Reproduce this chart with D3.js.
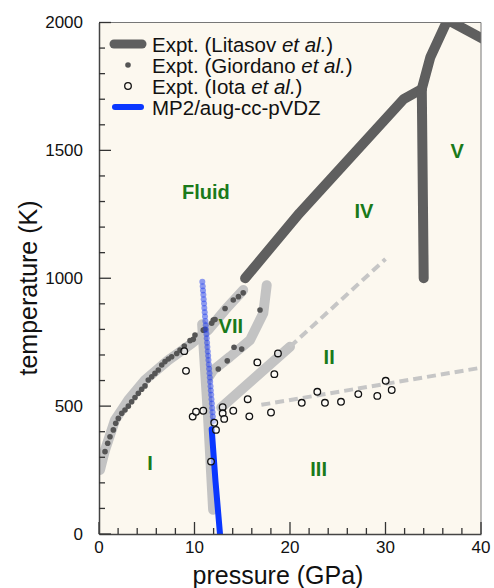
<!DOCTYPE html>
<html>
<head>
<meta charset="utf-8">
<script src="https://cdn.jsdelivr.net/npm/d3@7"></script>
<style>
  html, body { margin: 0; padding: 0; background: #ffffff; }
  svg { display: block; font-family: "Liberation Sans", Arial, Helvetica, sans-serif; }
</style>
</head>
<body>
<svg id="chart" width="494" height="588"></svg>
<script>
// ---- data: pressure (GPa), temperature (K) ----

// Litasov et al. phase boundaries (thick dark lines)
const litasovMelt = [[15.3, 1000], [21.0, 1255], [31.9, 1700], [33.8, 1740]];
const litasovIVV = [[33.8, 1740], [34.0, 1000]];
const litasovUpper = [[33.8, 1740], [34.7, 1865], [36.5, 2010], [40.5, 1930]];

// light grey guide boundaries
const bandMeltI = [[0.1, 250], [0.63, 328], [1.68, 446], [3.07, 524], [4.82, 602], [7.26, 680], [9.71, 745], [11.45, 798], [13.2, 876], [15.1, 954]];
const bandVIIupper = [[17.56, 973], [17.2, 863], [15.81, 758], [13.72, 693], [11.97, 641], [11.28, 602]];
const bandVIIVIII = [[10.8, 820], [11.4, 470], [11.95, 95]];
const bandVIIvsII = [[12.8, 495], [20.0, 732]];

// dashed grey boundaries
const dashIIvsIV = [[20.0, 732], [30.0, 1075]];
const dashIIvsIII = [[17.0, 505], [40.0, 650]];

// Giordano et al. points
const giordanoP = [0.63, 0.91, 1.15, 1.5, 1.75, 2.02, 2.38, 2.72, 3.07, 3.42, 3.77, 4.12, 4.47, 4.82, 5.16, 5.52, 5.86, 6.21, 6.57, 6.91, 7.26, 7.61, 8.14, 8.48, 8.93, 9.53, 9.87, 10.05, 10.92, 11.1, 11.8, 11.97, 12.15, 13.2, 14.06, 14.6, 15.1, 16.86, 14.94, 14.14, 13.43, 12.49];
const giordanoT = [322, 355, 380, 407, 433, 452, 472, 485, 500, 517, 534, 550, 566, 579, 602, 615, 628, 641, 661, 674, 684, 693, 706, 719, 735, 756, 761, 778, 797, 800, 824, 837, 839, 882, 915, 928, 943, 876, 723, 730, 677, 645];

// Iota et al. points
const iotaP = [8.93, 9.11, 9.81, 10.16, 10.92, 12.07, 12.25, 11.73, 12.95, 12.95, 13.11, 14.06, 15.57, 15.74, 16.58, 18.36, 18.74, 18.01, 21.23, 22.86, 23.66, 25.34, 27.15, 29.14, 30.02, 30.65];
const iotaT = [715, 638, 459, 478, 482, 435, 407, 283, 496, 472, 450, 482, 527, 460, 671, 625, 706, 475, 513, 556, 513, 517, 547, 540, 599, 563];

// MP2/aug-cc-pVDZ simulated melting points
const mp2P = [10.82, 10.86, 10.89, 10.93, 10.96, 11.00, 11.03, 11.07, 11.10, 11.14, 11.18, 11.21, 11.25, 11.28, 11.32, 11.35, 11.39, 11.43, 11.46, 11.50, 11.53, 11.57, 11.60, 11.64, 11.68, 11.71, 11.75, 11.78, 11.82, 11.85, 11.89, 11.92, 11.96];
const mp2T = [986, 969, 952, 935, 918, 901, 884, 867, 850, 833, 816, 799, 782, 765, 748, 731, 714, 697, 680, 663, 646, 629, 612, 595, 578, 561, 544, 527, 510, 493, 476, 459, 442];
// MP2 VII/VIII boundary line
const mp2Line = [[11.8, 410], [12.2, 205], [12.67, 0]];

// phase labels
const phaseNames = ["Fluid", "IV", "V", "VII", "II", "I", "III"];
const phaseP = [11.2, 27.75, 37.5, 13.8, 24.1, 5.34, 23.0];
const phaseT = [1337, 1263, 1497, 813, 692, 278, 254];

// axis ticks
const xTicks = [0, 10, 20, 30, 40];
const yTicks = [0, 500, 1000, 1500, 2000];

// ---- drawing ----
const svg = d3.select("#chart");
const padLeft = 99, padRight = 481, padTop = 22.5, padBottom = 534;

const x = d3.scaleLinear().domain([0, 40]).range([padLeft, padRight]);
const y = d3.scaleLinear().domain([0, 2000]).range([padBottom, padTop]);

svg.append("rect")
  .attr("x", padLeft).attr("y", padTop)
  .attr("width", padRight - padLeft).attr("height", padBottom - padTop)
  .attr("fill", "#fcf8ef");

svg.append("clipPath").attr("id", "plotclip")
  .append("rect")
  .attr("x", padLeft).attr("y", padTop)
  .attr("width", padRight - padLeft).attr("height", padBottom - padTop);

const plot = svg.append("g").attr("clip-path", "url(#plotclip)");
const line = d3.line().x(d => x(d[0])).y(d => y(d[1]));

// light grey boundaries
[bandMeltI, bandVIIupper, bandVIIVIII, bandVIIvsII].forEach(pts => {
  plot.append("path").attr("d", line(pts))
    .attr("fill", "none").attr("stroke", "#c3c3c3")
    .attr("stroke-width", 10).attr("stroke-linecap", "round").attr("stroke-linejoin", "round");
});

[dashIIvsIV, dashIIvsIII].forEach(pts => {
  plot.append("path").attr("d", line(pts))
    .attr("fill", "none").attr("stroke", "#c6c6c6")
    .attr("stroke-width", 4).attr("stroke-dasharray", "9,5");
});

// Litasov boundaries
[litasovMelt, litasovIVV, litasovUpper].forEach(pts => {
  plot.append("path").attr("d", line(pts))
    .attr("fill", "none").attr("stroke", "#5f5f5f")
    .attr("stroke-width", 10).attr("stroke-linecap", "round").attr("stroke-linejoin", "round");
});

// Giordano points
plot.append("g").selectAll("circle")
  .data(d3.range(giordanoP.length))
  .join("circle")
  .attr("cx", i => x(giordanoP[i])).attr("cy", i => y(giordanoT[i]))
  .attr("r", 2.8).attr("fill", "#555555");

// MP2 points
plot.append("g").selectAll("circle")
  .data(d3.range(mp2P.length))
  .join("circle")
  .attr("cx", i => x(mp2P[i])).attr("cy", i => y(mp2T[i]))
  .attr("r", 3).attr("fill", "#1e3cf0").attr("fill-opacity", 0.5);

// MP2 line
plot.append("path").attr("d", line(mp2Line))
  .attr("fill", "none").attr("stroke", "#0a37ff")
  .attr("stroke-width", 6).attr("stroke-linecap", "round");

// Iota points
plot.append("g").selectAll("circle")
  .data(d3.range(iotaP.length))
  .join("circle")
  .attr("cx", i => x(iotaP[i])).attr("cy", i => y(iotaT[i]))
  .attr("r", 3.3).attr("fill", "#ffffff").attr("fill-opacity", 0.5)
  .attr("stroke", "#111111").attr("stroke-width", 1.3);

// phase labels
plot.append("g").selectAll("text")
  .data(phaseNames)
  .join("text")
  .attr("x", (d, i) => x(phaseP[i])).attr("y", (d, i) => y(phaseT[i]))
  .attr("text-anchor", "middle").attr("dominant-baseline", "central")
  .attr("font-size", 20).attr("font-weight", "bold").attr("fill", "#1a7a1a")
  .text(d => d);

// frame: top and right borders
svg.append("path")
  .attr("d", `M${padLeft},${padTop}H${padRight}V${padBottom}`)
  .attr("fill", "none").attr("stroke", "#777").attr("stroke-width", 1);

// axes with inward ticks
const xAxis = svg.append("g").attr("transform", `translate(0,${padBottom})`);
xAxis.call(d3.axisBottom(x).tickValues([]).tickSize(0));
xAxis.select(".domain").attr("stroke", "#444").attr("stroke-width", 1.5);
xAxis.append("g").selectAll("line")
  .data(d3.range(0, 41, 2))
  .join("line")
  .attr("x1", d => x(d)).attr("x2", d => x(d))
  .attr("y1", 0).attr("y2", d => (d % 10 === 0 ? -12 : -6))
  .attr("stroke", "#333").attr("stroke-width", 1.3);
xAxis.append("g").selectAll("text")
  .data(xTicks)
  .join("text")
  .attr("x", d => x(d)).attr("y", 19)
  .attr("text-anchor", "middle").attr("font-size", 17).attr("fill", "#111")
  .text(d => d);

const yAxis = svg.append("g").attr("transform", `translate(${padLeft},0)`);
yAxis.call(d3.axisLeft(y).tickValues([]).tickSize(0));
yAxis.select(".domain").attr("stroke", "#444").attr("stroke-width", 1.5);
yAxis.append("g").selectAll("line")
  .data(d3.range(0, 2001, 100))
  .join("line")
  .attr("x1", 0).attr("x2", d => (d % 500 === 0 ? 12 : 6))
  .attr("y1", d => y(d)).attr("y2", d => y(d))
  .attr("stroke", "#333").attr("stroke-width", 1.3);
yAxis.append("g").selectAll("text")
  .data(yTicks)
  .join("text")
  .attr("x", -16).attr("y", d => y(d))
  .attr("text-anchor", "end").attr("dominant-baseline", "central")
  .attr("font-size", 17).attr("fill", "#111")
  .text(d => d);

// axis titles
svg.append("text")
  .attr("x", 278).attr("y", 584)
  .attr("text-anchor", "middle").attr("font-size", 25).attr("fill", "#111")
  .text("pressure (GPa)");
svg.append("text")
  .attr("transform", "translate(28,288) rotate(-90)")
  .attr("text-anchor", "middle").attr("dominant-baseline", "central")
  .attr("font-size", 25).attr("fill", "#111")
  .text("temperature (K)");

// legend
const legend = svg.append("g");
const rows = [44, 65, 86, 107];
legend.append("line").attr("x1", 114).attr("x2", 142).attr("y1", rows[0]).attr("y2", rows[0])
  .attr("stroke", "#5f5f5f").attr("stroke-width", 9).attr("stroke-linecap", "round");
legend.append("circle").attr("cx", 128).attr("cy", rows[1]).attr("r", 2.8).attr("fill", "#555");
legend.append("circle").attr("cx", 128).attr("cy", rows[2]).attr("r", 3.3)
  .attr("fill", "none").attr("stroke", "#111").attr("stroke-width", 1.3);
legend.append("line").attr("x1", 115).attr("x2", 141).attr("y1", rows[3]).attr("y2", rows[3])
  .attr("stroke", "#0a37ff").attr("stroke-width", 6).attr("stroke-linecap", "round");

const labelParts = [
  [["Expt. (Litasov ", false], ["et al.", true], [")", false]],
  [["Expt. (Giordano ", false], ["et al.", true], [")", false]],
  [["Expt. (Iota ", false], ["et al.", true], [")", false]],
  [["MP2/aug-cc-pVDZ", false]]
];
labelParts.forEach((parts, i) => {
  const t = legend.append("text")
    .attr("x", 152).attr("y", rows[i])
    .attr("dominant-baseline", "central")
    .attr("font-size", 20.5).attr("fill", "#111");
  parts.forEach(p => {
    t.append("tspan").attr("font-style", p[1] ? "italic" : "normal").text(p[0]);
  });
});
</script>
</body>
</html>
